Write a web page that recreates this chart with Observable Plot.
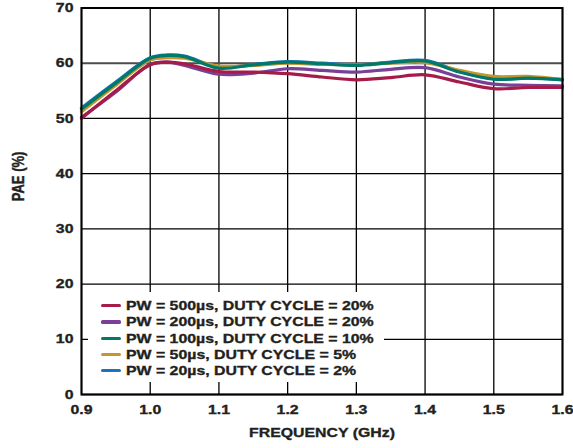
<!DOCTYPE html>
<html><head><meta charset="utf-8">
<script src="https://cdn.jsdelivr.net/npm/d3@7"></script>
<script src="https://cdn.jsdelivr.net/npm/@observablehq/plot@0.6"></script>
<style>
body{margin:0;background:#fff;}
#wrap{position:relative;width:573px;height:448px;font-family:"Liberation Sans",Arial,sans-serif;}
#legend{position:absolute;left:88px;top:292px;width:296px;height:90px;background:#fff;}
.row{position:absolute;left:0;height:16px;display:flex;align-items:center;font-weight:bold;font-size:13px;color:#231f20;white-space:nowrap}
.sw{display:inline-block;width:20px;height:3.3px;margin-left:12.7px;margin-right:5px;border-radius:1.6px}
.tx{display:inline-block;transform:scaleX(1.22);transform-origin:left center;-webkit-text-stroke:0.35px #231f20}
#chart svg text{stroke:#231f20;stroke-width:0.35px}
</style></head>
<body>
<div id="wrap"><div id="chart"></div><div id="legend"></div></div>
<script>
const freq = [0.9,0.95,1.0,1.025,1.05,1.1,1.15,1.2,1.25,1.3,1.35,1.4,1.45,1.5,1.55,1.6];
const pae500 = [50.0,55.0,59.7,60.2,59.9,58.5,58.4,58.1,57.5,57.0,57.4,57.9,56.6,55.4,55.6,55.6];
const pae200 = [50.2,54.8,59.8,60.2,59.6,58.0,58.2,59.0,58.7,58.4,58.9,59.2,57.5,56.2,56.0,55.9];
const pae100 = [51.7,56.4,60.9,61.4,61.2,59.1,59.7,60.2,59.9,59.6,60.1,60.4,58.4,57.1,57.3,57.0];
const pae50  = [51.2,56.0,60.6,61.0,60.9,59.5,59.6,60.0,59.8,59.7,60.0,60.1,58.7,57.6,57.6,57.0];
const pae20  = [51.9,56.6,61.0,61.5,61.3,59.3,59.8,60.3,60.0,59.7,60.2,60.5,58.5,57.2,57.3,57.1];
const seriesNames = ["PW = 500µs, DUTY CYCLE = 20%","PW = 200µs, DUTY CYCLE = 20%","PW = 100µs, DUTY CYCLE = 10%","PW = 50µs, DUTY CYCLE = 5%","PW = 20µs, DUTY CYCLE = 2%"];
const seriesColors = ["#a51c48","#7a3f97","#00796b","#c4962c","#1b74bb"];
const xTicks = [0.9,1.0,1.1,1.2,1.3,1.4,1.5,1.6];
const yTicks = [0,10,20,30,40,50,60,70];
const xLabel = "FREQUENCY (GHz)";
const yLabel = "PAE (%)";

const allSeries = [pae500,pae200,pae100,pae50,pae20];
const rows = [];
allSeries.forEach((vals,i)=>vals.forEach((v,j)=>rows.push({f:freq[j],pae:v,s:i})));
const drawOrder = [4,3,2,1,0];

const chart = Plot.plot({
  width:573, height:448,
  marginLeft:81, marginRight:11, marginTop:7.5, marginBottom:54,
  style:{fontFamily:"'Liberation Sans', Arial, sans-serif", fontSize:"13px", fontWeight:"bold", color:"#231f20", background:"#fff"},
  x:{domain:[0.9,1.6]},
  y:{domain:[0,70]},
  marks:[
    Plot.gridX(xTicks,{stroke:"#000",strokeOpacity:1,strokeWidth:1.3}),
    Plot.gridY(yTicks.filter(d=>d!==60),{stroke:"#000",strokeOpacity:1,strokeWidth:1.3}),
    Plot.gridY(yTicks.filter(d=>d===60),{stroke:"#4d4d4d",strokeOpacity:1,strokeWidth:2}),
    ...drawOrder.map(i=>Plot.line(rows.filter(r=>r.s===i),{x:"f",y:"pae",stroke:seriesColors[i],strokeWidth:3.2,curve:"catmull-rom"})),
    Plot.frame({stroke:"#000",strokeWidth:2}),
    Plot.axisX(xTicks,{tickSize:0,tickPadding:10,tickFormat:d3.format(".1f"),label:null,fontSize:13,fontWeight:"bold"}),
    Plot.axisY(yTicks,{tickSize:0,tickPadding:8,label:null,fontSize:13,fontWeight:"bold"}),
    Plot.text([xLabel],{frameAnchor:"bottom",dy:42,fontSize:13,fontWeight:"bold",fill:"#231f20"}),
    Plot.text([yLabel],{frameAnchor:"left",dx:-63,rotate:-90,fontSize:13,fontWeight:"bold",fill:"#231f20"})
  ]
});
// widen glyphs horizontally to match the reference's wide bold lettering
chart.querySelectorAll("text").forEach(t=>{
  const tr = t.getAttribute("transform");
  if (tr && tr.includes("translate")) {
    t.setAttribute("transform", tr + (tr.includes("rotate") ? " scale(1,1.22)" : " scale(1.22,1)"));
  }
});
document.getElementById("chart").appendChild(chart);

const leg = document.getElementById("legend");
seriesNames.forEach((name,i)=>{
  const r = document.createElement("div");
  r.className="row";
  r.style.top = (5.7 + i*16.25)+"px";
  const sw = document.createElement("span");
  sw.className="sw"; sw.style.background = seriesColors[i];
  r.appendChild(sw);
  const tx = document.createElement("span");
  tx.className="tx"; tx.textContent = name;
  r.appendChild(tx);
  leg.appendChild(r);
});
</script>
</body></html>
